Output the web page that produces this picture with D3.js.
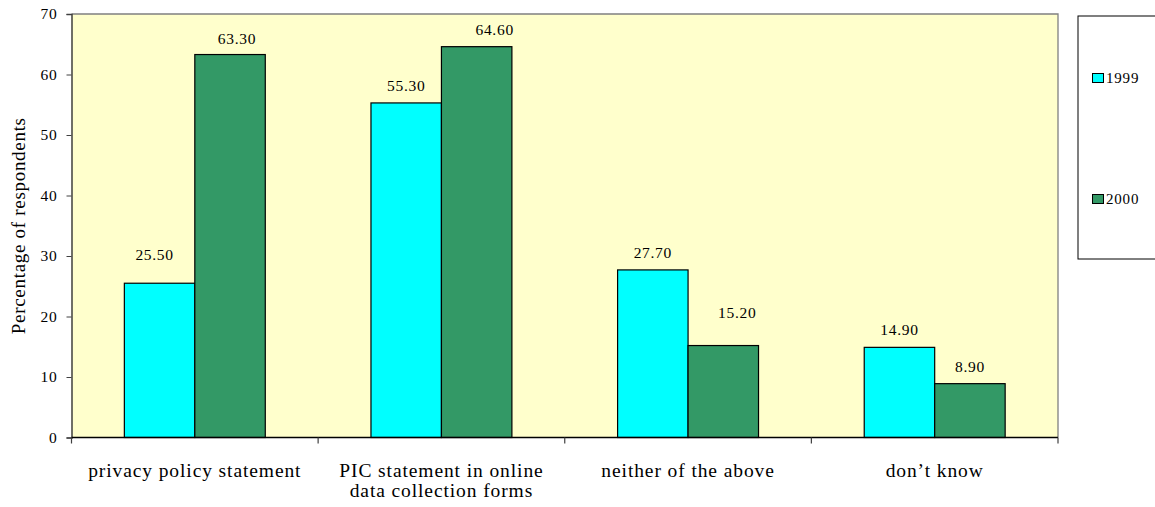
<!DOCTYPE html>
<html>
<head>
<meta charset="utf-8">
<script src="https://cdn.jsdelivr.net/npm/d3@7/dist/d3.min.js"></script>
<style>
  html, body { margin: 0; padding: 0; background: #ffffff; }
  svg { display: block; }
  text { font-family: "Liberation Serif", "Times New Roman", serif; fill: #000; }
</style>
</head>
<body>
<svg id="chart" width="1155" height="507"></svg>
<script>
// Survey: share of respondents who saw each kind of notice
const categories = ["privacy policy statement", "PIC statement in online data collection forms", "neither of the above", "don’t know"];
const categoryLines = [["privacy policy statement"], ["PIC statement in online", "data collection forms"], ["neither of the above"], ["don’t know"]];
const seriesNames = ["1999", "2000"];
const values1999 = [25.5, 55.3, 27.7, 14.9];
const values2000 = [63.3, 64.6, 15.2, 8.9];
const yTicks = [0, 10, 20, 30, 40, 50, 60, 70];

// hand-placed nudges for a few value labels [dx, dy]
const labelNudge = {
  "1999": [[-5, -11], [0, 0], [0, 0], [0, 0]],
  "2000": [[7, 1], [18, 0], [14, -16], [0, 0]]
};

const colors = { "1999": "#00FFFF", "2000": "#339966" };

const svg = d3.select("#chart");
const plot = { left: 71.5, top: 14, right: 1058, bottom: 437.5 };

const x0 = d3.scaleBand().domain(categories).range([plot.left, plot.right]).padding(0);
const x1 = d3.scaleBand().domain(seriesNames).range([0, x0.bandwidth()]).paddingInner(0).paddingOuter(0.75);
const y = d3.scaleLinear().domain([0, 70]).range([plot.bottom, plot.top]);

// plot background with grey frame on top and right
svg.append("rect")
  .attr("x", plot.left).attr("y", plot.top)
  .attr("width", plot.right - plot.left).attr("height", plot.bottom - plot.top)
  .attr("fill", "#FFFFCC");
svg.append("path")
  .attr("d", `M${plot.left},${plot.top}H${plot.right}V${plot.bottom}`)
  .attr("fill", "none").attr("stroke", "#808080").attr("stroke-width", 1.3);

// bars
const rows = categories.map((c, i) => ({ cat: c, i, vals: { "1999": values1999[i], "2000": values2000[i] } }));
const groups = svg.append("g").selectAll("g").data(rows).join("g")
  .attr("transform", d => `translate(${x0(d.cat)},0)`);

groups.selectAll("rect").data(d => seriesNames.map(s => ({ s, v: d.vals[s], i: d.i }))).join("rect")
  .attr("x", d => x1(d.s))
  .attr("y", d => y(d.v))
  .attr("width", x1.bandwidth())
  .attr("height", d => y(0) - y(d.v))
  .attr("fill", d => colors[d.s])
  .attr("stroke", "#000").attr("stroke-width", 1.2);

groups.selectAll("text.val").data(d => seriesNames.map(s => ({ s, v: d.vals[s], i: d.i }))).join("text")
  .attr("class", "val")
  .attr("x", d => x1(d.s) + x1.bandwidth() / 2 + labelNudge[d.s][d.i][0])
  .attr("y", d => y(d.v) - 12 + labelNudge[d.s][d.i][1])
  .attr("text-anchor", "middle")
  .attr("font-size", 15.5)
  .attr("letter-spacing", 0.7)
  .text(d => d.v.toFixed(2));

// y axis
const yAxis = svg.append("g").attr("transform", `translate(${plot.left},0)`)
  .call(d3.axisLeft(y).tickValues(yTicks).tickSize(5).tickPadding(9).tickFormat(d3.format("d")));
yAxis.select(".domain").attr("stroke", "#404040").attr("stroke-width", 1.5);
yAxis.selectAll(".tick line").attr("stroke", "#404040");
yAxis.selectAll(".tick text").attr("font-size", 15.5).attr("letter-spacing", 0.8)
  .style("font-family", '"Liberation Serif", "Times New Roman", serif').attr("fill", "#000");

// x axis: ticks at category boundaries
const xAxisG = svg.append("g");
xAxisG.append("line").attr("x1", plot.left).attr("x2", plot.right)
  .attr("y1", plot.bottom).attr("y2", plot.bottom).attr("stroke", "#000").attr("stroke-width", 1.3);
const bounds = categories.map(c => x0(c)).concat([plot.right]);
xAxisG.selectAll("line.tick").data(bounds).join("line").attr("class", "tick")
  .attr("x1", d => d).attr("x2", d => d)
  .attr("y1", plot.bottom).attr("y2", plot.bottom + 6)
  .attr("stroke", "#404040").attr("stroke-width", 1.2);

const catLabels = xAxisG.selectAll("text").data(categories).join("text")
  .attr("text-anchor", "middle")
  .attr("font-size", 19.5)
  .attr("letter-spacing", 0.9)
  .attr("x", d => x0(d) + x0.bandwidth() / 2)
  .attr("y", 477);
catLabels.each(function (d, i) {
  const t = d3.select(this);
  categoryLines[i].forEach((line, k) => {
    t.append("tspan").attr("x", x0(d) + x0.bandwidth() / 2).attr("dy", k === 0 ? 0 : 19.5).text(line);
  });
});

// axis title
svg.append("text")
  .attr("transform", `translate(24.5,${(plot.top + plot.bottom) / 2}) rotate(-90)`)
  .attr("text-anchor", "middle")
  .attr("font-size", 19)
  .attr("letter-spacing", 0.7)
  .text("Percentage of respondents");

// legend
const legend = svg.append("g");
legend.append("rect").attr("x", 1078).attr("y", 16).attr("width", 100).attr("height", 243)
  .attr("fill", "#fff").attr("stroke", "#000").attr("stroke-width", 1);
const legendY = { "1999": 78, "2000": 199 };
seriesNames.forEach(s => {
  legend.append("rect").attr("x", 1092.5).attr("y", legendY[s] - 4.5).attr("width", 11).attr("height", 9)
    .attr("fill", colors[s]).attr("stroke", "#000").attr("stroke-width", 1);
  legend.append("text").attr("x", 1106).attr("y", legendY[s] + 5)
    .attr("font-size", 15).attr("letter-spacing", 0.8).text(s);
});
</script>
</body>
</html>
